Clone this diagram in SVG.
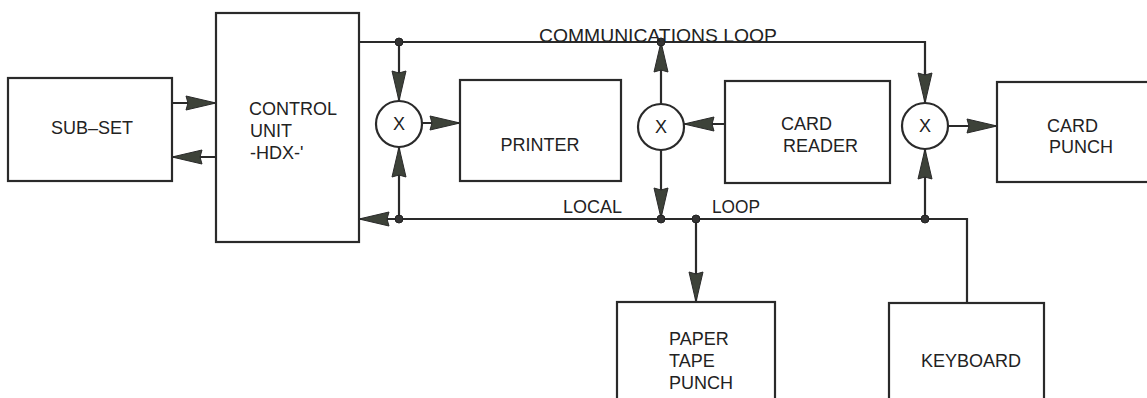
<svg xmlns="http://www.w3.org/2000/svg" width="1147" height="398" viewBox="0 0 1147 398">
<style>
.box{fill:none;stroke:#2a2a2a;stroke-width:2.2}
.ln{fill:none;stroke:#2a2a2a;stroke-width:2.2}
.arr{marker-end:url(#ah)}
.dot{fill:#333;stroke:#222;stroke-width:1}
text{font-family:"Liberation Sans",Arial,sans-serif;font-size:18px;fill:#222}
.c{text-anchor:middle}
</style>
<defs>
<marker id="ah" markerUnits="userSpaceOnUse" markerWidth="32" markerHeight="16" viewBox="0 0 32 16" refX="31" refY="8" orient="auto">
<path d="M1,1 L31,8 L1,15 L3,8 Z" fill="#3d4239" stroke="#2a2a2a" stroke-width="1"/>
</marker>
</defs>
<rect width="1147" height="398" fill="#ffffff"/>

<g id="subset">
<rect class="box" x="8" y="78" width="164" height="103"/>
<text class="c" x="92" y="134">SUB–SET</text>
</g>
<g id="control-unit">
<rect class="box" x="216" y="13" width="143" height="229"/>
<text x="249" y="115">CONTROL</text>
<text x="250" y="137">UNIT</text>
<text x="250" y="159">-HDX-'</text>
</g>
<g id="printer">
<rect class="box" x="460" y="80" width="161" height="101"/>
<text class="c" x="540" y="151">PRINTER</text>
</g>
<g id="card-reader">
<rect class="box" x="725" y="81" width="165" height="102"/>
<text x="781" y="130">CARD</text>
<text x="783" y="152">READER</text>
</g>
<g id="card-punch">
<rect class="box" x="997" y="82" width="160" height="100"/>
<text x="1047" y="132">CARD</text>
<text x="1049" y="153">PUNCH</text>
</g>
<g id="paper-tape-punch">
<rect class="box" x="617" y="302" width="158" height="110"/>
<text x="669" y="345">PAPER</text>
<text x="669" y="367">TAPE</text>
<text x="669" y="389">PUNCH</text>
</g>
<g id="keyboard">
<rect class="box" x="889" y="303" width="155" height="110"/>
<text class="c" x="971" y="367">KEYBOARD</text>
</g>
<g id="switch1">
<circle class="box" cx="399" cy="124" r="23"/>
<text class="c" x="399" y="130">X</text>
</g>
<g id="switch2">
<circle class="box" cx="661" cy="127" r="23"/>
<text class="c" x="661" y="133">X</text>
</g>
<g id="switch3">
<circle class="box" cx="925" cy="126" r="23"/>
<text class="c" x="925" y="132">X</text>
</g>

<g id="connectors">
<line class="ln arr" x1="172" y1="103" x2="216" y2="103"/>
<line class="ln arr" x1="216" y1="157" x2="172" y2="157"/>
<polyline class="ln" points="359,42 925,42 925,74"/>
<line class="ln arr" x1="925" y1="70" x2="925" y2="103"/>
<polyline class="ln" points="359,219 967,219 967,303"/>
<line class="ln arr" x1="399" y1="219" x2="359" y2="219"/>
<line class="ln arr" x1="399" y1="42" x2="399" y2="101"/>
<line class="ln arr" x1="399" y1="219" x2="399" y2="147"/>
<line class="ln arr" x1="422" y1="123" x2="460" y2="123"/>
<line class="ln arr" x1="661" y1="104" x2="661" y2="42"/>
<line class="ln arr" x1="661" y1="150" x2="661" y2="218"/>
<line class="ln arr" x1="725" y1="124" x2="684" y2="124"/>
<line class="ln arr" x1="925" y1="219" x2="925" y2="149"/>
<line class="ln arr" x1="948" y1="126" x2="997" y2="126"/>
<line class="ln arr" x1="696" y1="219" x2="696" y2="302"/>
<circle class="dot" cx="399" cy="42" r="4"/>
<circle class="dot" cx="661" cy="42" r="4"/>
<circle class="dot" cx="399" cy="219" r="4"/>
<circle class="dot" cx="661" cy="219" r="4"/>
<circle class="dot" cx="696" cy="219" r="4"/>
<circle class="dot" cx="925" cy="219" r="4"/>
<text x="539" y="42" textLength="238" lengthAdjust="spacingAndGlyphs">COMMUNICATIONS LOOP</text>
<text x="563" y="213" textLength="59" lengthAdjust="spacingAndGlyphs">LOCAL</text>
<text x="712" y="213" textLength="48" lengthAdjust="spacingAndGlyphs">LOOP</text>
</g>
</svg>
